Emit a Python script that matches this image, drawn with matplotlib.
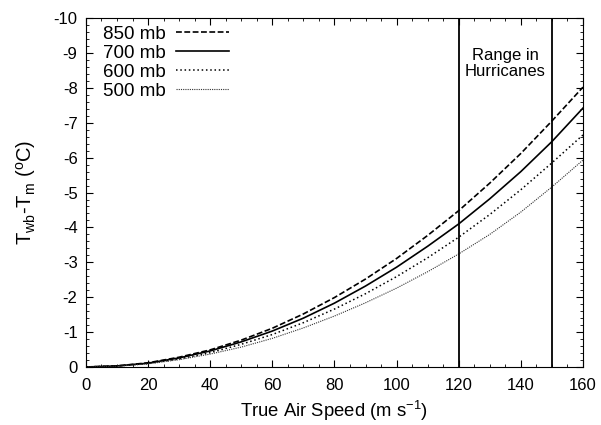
import matplotlib
matplotlib.use("Agg")
import matplotlib.pyplot as plt
from matplotlib.ticker import MultipleLocator

plt.rcParams['font.family'] = ['Liberation Sans', 'DejaVu Sans']
plt.rcParams['mathtext.default'] = 'regular'
plt.rcParams['axes.unicode_minus'] = False

# true air speed (m/s) and wet-bulb minus measured temperature (deg C)
speed = [0, 10, 20, 30, 40, 50, 60, 70, 80, 90, 100, 110, 120, 130, 140, 150, 160]
dT_850 = [0, -0.03, -0.12, -0.28, -0.49, -0.77, -1.11, -1.52, -1.99, -2.52, -3.11, -3.77, -4.48, -5.27, -6.12, -7.05, -8.02]
dT_700 = [0, -0.03, -0.11, -0.26, -0.46, -0.72, -1.03, -1.40, -1.83, -2.32, -2.86, -3.46, -4.10, -4.82, -5.60, -6.46, -7.42]
dT_600 = [0, -0.03, -0.10, -0.23, -0.41, -0.65, -0.93, -1.27, -1.66, -2.10, -2.59, -3.13, -3.72, -4.37, -5.08, -5.85, -6.65]
dT_500 = [0, -0.02, -0.09, -0.21, -0.37, -0.57, -0.82, -1.12, -1.46, -1.84, -2.26, -2.73, -3.24, -3.80, -4.44, -5.16, -5.93]
hurricane_range = [120, 150]

fig = plt.figure(figsize=(6.01, 4.25), dpi=100)
ax = fig.add_axes([0.143, 0.1365, 0.827, 0.821])

ax.plot(speed, dT_850, color='black', lw=1.2, ls=(0, (3.5, 1.5)), label='850 mb')
ax.plot(speed, dT_700, color='black', lw=1.2, ls='-', label='700 mb')
ax.plot(speed, dT_600, color='black', lw=1.1, ls=(0, (1, 1.8)), label='600 mb')
ax.plot(speed, dT_500, color='#333333', lw=0.8, ls=(0, (1, 1)), label='500 mb')

for xv in hurricane_range:
    ax.axvline(xv, color='black', lw=1.3)
ax.text(135, -8.7, 'Range in\nHurricanes', ha='center', va='center', fontsize=12, linespacing=1.1)

ax.set_xlim(0, 160)
ax.set_ylim(0, -10)
ax.xaxis.set_major_locator(MultipleLocator(20))
ax.xaxis.set_minor_locator(MultipleLocator(5))
ax.yaxis.set_major_locator(MultipleLocator(1))
ax.yaxis.set_minor_locator(MultipleLocator(0.2))
ax.tick_params(which='both', direction='in', top=True, right=True, labelsize=12)
ax.tick_params(which='major', length=5)
ax.tick_params(axis='x', which='major', pad=8)
ax.tick_params(axis='y', which='major', pad=6)
ax.tick_params(which='minor', length=2.5)

ax.set_xlabel('True Air Speed (m s$^{-1}$)', fontsize=13.3)
ax.set_ylabel('T$_{wb}$-T$_m$ ($^o$C)', fontsize=14.5, labelpad=11)

leg = ax.legend(loc='upper left', bbox_to_anchor=(0.02, 1.0), frameon=False, markerfirst=False,
                fontsize=13.5, handlelength=2.8, labelspacing=0.1, borderaxespad=0.0,
                borderpad=0.4, handletextpad=0.55)

fig.savefig('out.png', dpi=100)
